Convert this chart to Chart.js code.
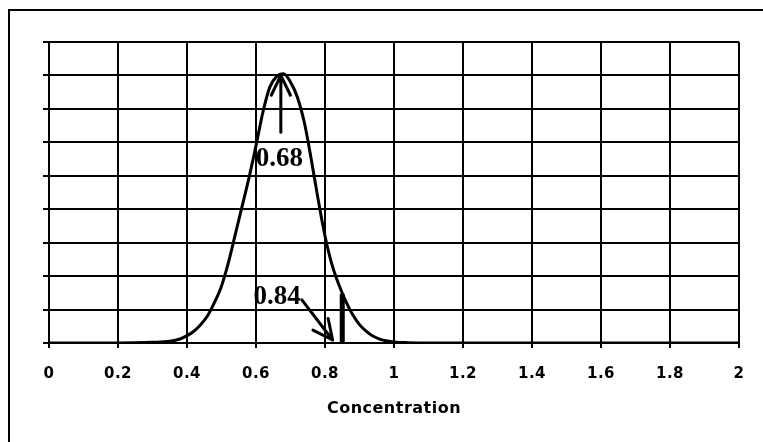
<!DOCTYPE html>
<html>
<head>
<meta charset="utf-8">
<script src="https://cdn.jsdelivr.net/npm/chart.js@4/dist/chart.umd.min.js"></script>
<style>
  html, body { margin: 0; padding: 0; background: #fff; }
  #wrap { width: 763px; height: 442px; }
</style>
</head>
<body>
<div id="wrap"><canvas id="concChart" width="763" height="442"></canvas></div>
<script>
// distribution curve (y in grid units, 9 rows)
const curveX = [0, 0.1, 0.2, 0.3, 0.35, 0.38, 0.4, 0.42, 0.44, 0.46, 0.48, 0.5, 0.52, 0.54, 0.56, 0.58, 0.6, 0.62, 0.64, 0.66, 0.68, 0.7, 0.72, 0.74, 0.76, 0.78, 0.8, 0.82, 0.84, 0.86, 0.88, 0.9, 0.92, 0.94, 0.96, 0.98, 1.0, 1.04, 1.1, 1.5, 2.0];
const curveY = [0, 0, 0, 0.02, 0.05, 0.12, 0.22, 0.35, 0.55, 0.82, 1.22, 1.7, 2.4, 3.25, 4.1, 4.95, 5.9, 6.9, 7.65, 7.97, 8.05, 7.8, 7.35, 6.6, 5.5, 4.3, 3.2, 2.35, 1.75, 1.25, 0.85, 0.55, 0.35, 0.2, 0.11, 0.06, 0.03, 0.01, 0, 0, 0];

// vertical cut-off mark at the tail
const cutX = [0.85, 0.85];
const cutY = [0, 1.47];

// x tick labels as printed
const xTickLabels = ['0', '0.2', '0.4', '0.6', '0.8', '1', '1.2', '1.4', '1.6', '1.8', '2'];

// annotations: label, text anchor, arrow start, arrow end (data units)
const noteLabels = ['0.68', '0.84'];
const noteTextX = [0.668, 0.661];
const noteTextY = [5.3, 1.17];
const arrowFromX = [0.672, 0.733];
const arrowFromY = [6.3, 1.29];
const arrowToX = [0.672, 0.822];
const arrowToY = [8.0, 0.09];

const xMin = 0, xMax = 2, xStep = 0.2;
const yMin = 0, yMax = 9, yStep = 1;

function drawArrow(ctx, x1, y1, x2, y2) {
  const ang = Math.atan2(y2 - y1, x2 - x1);
  const head = 22, spread = 0.45;
  ctx.beginPath();
  ctx.moveTo(x1, y1);
  ctx.lineTo(x2, y2);
  ctx.moveTo(x2 - head * Math.cos(ang - spread), y2 - head * Math.sin(ang - spread));
  ctx.lineTo(x2, y2);
  ctx.lineTo(x2 - head * Math.cos(ang + spread), y2 - head * Math.sin(ang + spread));
  ctx.stroke();
}

const notesPlugin = {
  id: 'notes',
  beforeDraw(chart) {
    const ctx = chart.ctx;
    ctx.letterSpacing = '0.5px';
    // outer frame (top and left edges)
    ctx.save();
    ctx.strokeStyle = '#000';
    ctx.lineWidth = 2;
    ctx.beginPath();
    ctx.moveTo(9, chart.height);
    ctx.lineTo(9, 10);
    ctx.lineTo(chart.width, 10);
    ctx.stroke();
    ctx.restore();
  },
  afterDatasetsDraw(chart) {
    const ctx = chart.ctx;
    const sx = chart.scales.x, sy = chart.scales.y;
    ctx.save();
    ctx.letterSpacing = '0px';
    ctx.strokeStyle = '#000';
    ctx.lineWidth = 3;
    ctx.lineCap = 'round';
    ctx.lineJoin = 'round';
    for (let i = 0; i < noteLabels.length; i++) {
      drawArrow(ctx,
        sx.getPixelForValue(arrowFromX[i]), sy.getPixelForValue(arrowFromY[i]),
        sx.getPixelForValue(arrowToX[i]), sy.getPixelForValue(arrowToY[i]));
    }
    ctx.fillStyle = '#000';
    ctx.font = 'bold 27px "Liberation Serif", "Times New Roman", serif';
    ctx.textAlign = 'center';
    ctx.textBaseline = 'alphabetic';
    for (let i = 0; i < noteLabels.length; i++) {
      ctx.fillText(noteLabels[i], sx.getPixelForValue(noteTextX[i]), sy.getPixelForValue(noteTextY[i]));
    }
    ctx.restore();
  }
};

new Chart(document.getElementById('concChart'), {
  type: 'line',
  data: {
    datasets: [
      {
        label: 'Distribution',
        data: curveX.map((x, i) => ({ x, y: curveY[i] })),
        borderColor: '#000',
        borderWidth: 3,
        pointRadius: 0,
        fill: false,
        cubicInterpolationMode: 'monotone'
      },
      {
        label: 'Cut-off',
        data: cutX.map((x, i) => ({ x, y: cutY[i] })),
        borderColor: '#000',
        borderWidth: 5,
        pointRadius: 0,
        fill: false
      }
    ]
  },
  options: {
    responsive: false,
    animation: false,
    layout: { padding: { left: 43, top: 42, right: 24, bottom: 0 } },
    plugins: {
      legend: { display: false },
      tooltip: { enabled: false }
    },
    scales: {
      x: {
        type: 'linear',
        min: xMin,
        max: xMax,
        ticks: {
          stepSize: xStep,
          color: '#000',
          padding: 17,
          font: { family: '"DejaVu Sans", sans-serif', weight: 'bold', size: 15 },
          callback: (v, i) => xTickLabels[i]
        },
        grid: { color: '#000', lineWidth: 2, tickLength: 5 },
        border: { color: '#000', width: 2 },
        title: {
          display: true,
          text: 'Concentration',
          color: '#000',
          font: { family: '"DejaVu Sans", sans-serif', weight: 'bold', size: 16 },
          padding: { top: 0, bottom: 24 }
        },
        afterFit(scale) { scale.height = 99; }
      },
      y: {
        min: yMin,
        max: yMax,
        ticks: { stepSize: yStep, display: false },
        grid: { color: '#000', lineWidth: 2, tickLength: 6 },
        border: { color: '#000', width: 2 },
        afterFit(scale) { scale.width = 6; }
      }
    }
  },
  plugins: [notesPlugin]
});
</script>
</body>
</html>
